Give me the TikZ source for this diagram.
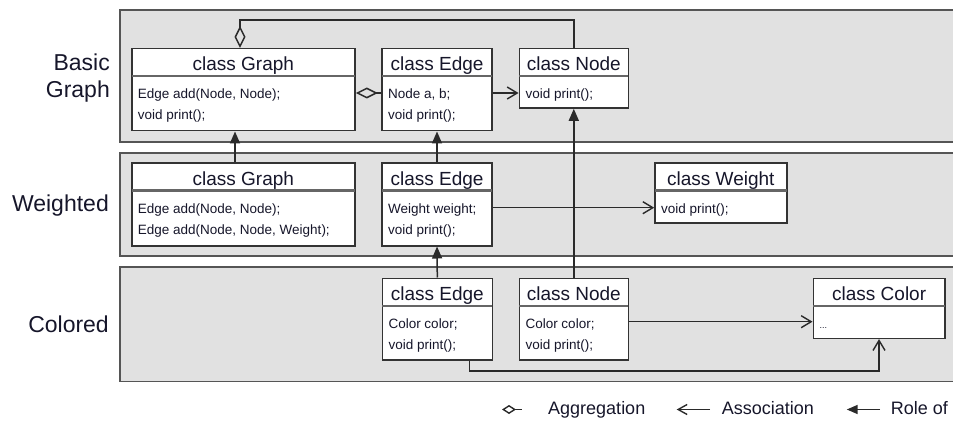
\documentclass[tikz,border=0pt]{standalone}
\usepackage{fontspec}
\setmainfont{Liberation Sans}
\usetikzlibrary{arrows.meta,fit}

\definecolor{layerfill}{HTML}{E1E1E1}
\definecolor{layerline}{HTML}{555555}
\definecolor{boxline}{HTML}{333333}
\definecolor{sepline}{HTML}{666666}
\definecolor{ink}{HTML}{16162A}
\definecolor{wire}{HTML}{2A2A2A}

\tikzset{
  layer/.style={fill=layerfill, draw=layerline, line width=1.9pt},
  layerlabel/.style={font=\fontsize{23}{27}\selectfont, text=ink, inner sep=0pt},
  classrect/.style={draw=boxline, fill=white, line width=1.6pt, inner sep=0pt},
  divider/.style={draw=sepline, line width=2.6pt},
  classtitle/.style={font=\fontsize{19}{22}\selectfont, text=ink, inner sep=0pt, anchor=base},
  member/.style={font=\fontsize{13.5}{16}\selectfont, text=ink, inner sep=0pt, anchor=base west},
  wireline/.style={draw=wire, line width=1.5pt},
  aggr/.style={wireline, -{Diamond[open, length=22pt, width=11pt, line width=1.5pt]}},
  assoc/.style={wireline, -{Straight Barb[length=10pt, width=12pt, line width=1.4pt]}},
  roleof/.style={wireline, -{Triangle[length=12pt, width=10pt]}},
  legendtext/.style={font=\fontsize{18}{21}\selectfont, text=ink, inner sep=0pt, anchor=base west},
}

% name, left, top, right, bottom, title, first member, second member
\newcommand\umlclass[8]{%
  \node[classrect, fit={(#2,#3) (#4,#5)}] (#1) {};
  \draw[divider] ({#2},{#3+27.5}) -- ({#4},{#3+27.5});
  \node[classtitle] at ({(#2+#4)/2},{#3+22}) {#6};
  \node[member] at ({#2+6},{#3+50.3}) {#7};
  \node[member] at ({#2+6},{#3+71}) {#8};
}

\begin{document}
\begin{tikzpicture}[x=1pt, y=-1pt]
  \useasboundingbox (0,0) rectangle (953,422);
  \clip (0,0) rectangle (953,422);

  % the three layers
  \path[layer] (120,10) rectangle (962,142);
  \path[layer] (120,152.7) rectangle (962,256);
  \path[layer] (120,267.3) rectangle (962,381.5);

  \node[layerlabel, align=right, anchor=base east] (lblBasic) at (110,97.5) {Basic\\Graph};
  \node[layerlabel, anchor=base east] (lblWeighted) at (109,211.5) {Weighted};
  \node[layerlabel, anchor=base east] (lblColored) at (109,332.5) {Colored};

  % classes
  \umlclass{bGraph}{131.7}{48.7}{355}{130.7}{class Graph}{Edge add(Node, Node);}{void print();}
  \umlclass{bEdge}{382}{48.7}{492}{130.7}{class Edge}{Node a, b;}{void print();}
  \umlclass{bNode}{519.3}{48.7}{628.3}{108}{class Node}{void print();}{}

  \umlclass{wGraph}{131.7}{163.3}{355}{245.7}{class Graph}{Edge add(Node, Node);}{Edge add(Node, Node, Weight);}
  \umlclass{wEdge}{382}{163.3}{492}{245.7}{class Edge}{Weight weight;}{void print();}
  \umlclass{wWeight}{655}{163.3}{786.7}{223.3}{class Weight}{void print();}{}

  \umlclass{cEdge}{382.3}{278.3}{492.3}{360}{class Edge}{Color color;}{void print();}
  \umlclass{cNode}{519.3}{278.3}{628.3}{360}{class Node}{Color color;}{void print();}
  \umlclass{cColor}{813.3}{278.3}{945}{338.3}{class Color}{\fontsize{9}{10}\selectfont ...}{}

  % helper coordinates for connector routing
  \coordinate (gx) at (240,0);
  \coordinate (rx) at (235,0);
  \coordinate (ex) at (469.3,0);
  \coordinate (cx) at (879,0);
  \coordinate (bRow) at (0,93);
  \coordinate (wRow) at (0,207.7);
  \coordinate (cRow) at (0,321.7);

  % aggregation
  \draw[aggr] (bNode.north) -- ++(0,-28) -| (bGraph.north -| gx);
  \draw[aggr] (bEdge.west |- bRow) -- (bGraph.east |- bRow);

  % association
  \draw[assoc] (bEdge.east |- bRow) -- (bNode.west |- bRow);
  \draw[assoc] (wEdge.east |- wRow) -- (wWeight.west |- wRow);
  \draw[assoc] (cNode.east |- cRow) -- (cColor.west |- cRow);
  \draw[assoc] (cEdge.south -| ex) -- ++(0,10) -| (cColor.south -| cx);

  % role of
  \draw[roleof] (wGraph.north -| rx) -- (bGraph.south -| rx);
  \draw[roleof] (wEdge.north) -- (bEdge.south);
  \draw[roleof] (cEdge.north) -- (wEdge.south);
  \draw[roleof] (cNode.north) -- (bNode.south);

  % legend
  \coordinate (lgAggrA) at (521.7,409.5);
  \coordinate (lgAggrB) at (502,409.5);
  \coordinate (lgAssocA) at (710,409.5);
  \coordinate (lgAssocB) at (676.7,409.5);
  \coordinate (lgRoleA) at (880,409.5);
  \coordinate (lgRoleB) at (846.7,409.5);
  \draw[wireline, -{Diamond[open, length=14pt, width=9pt, line width=1.4pt]}] (lgAggrA) -- (lgAggrB);
  \draw[wireline, -{Straight Barb[length=9pt, width=10pt, line width=1.4pt]}] (lgAssocA) -- (lgAssocB);
  \draw[wireline, -{Triangle[length=11pt, width=9pt]}] (lgRoleA) -- (lgRoleB);
  \node[legendtext] (lgAggrText) at (548,414.5) {Aggregation};
  \node[legendtext] (lgAssocText) at (721.7,414.5) {Association};
  \node[legendtext] (lgRoleText) at (890.7,414.5) {Role of};
\end{tikzpicture}
\end{document}
